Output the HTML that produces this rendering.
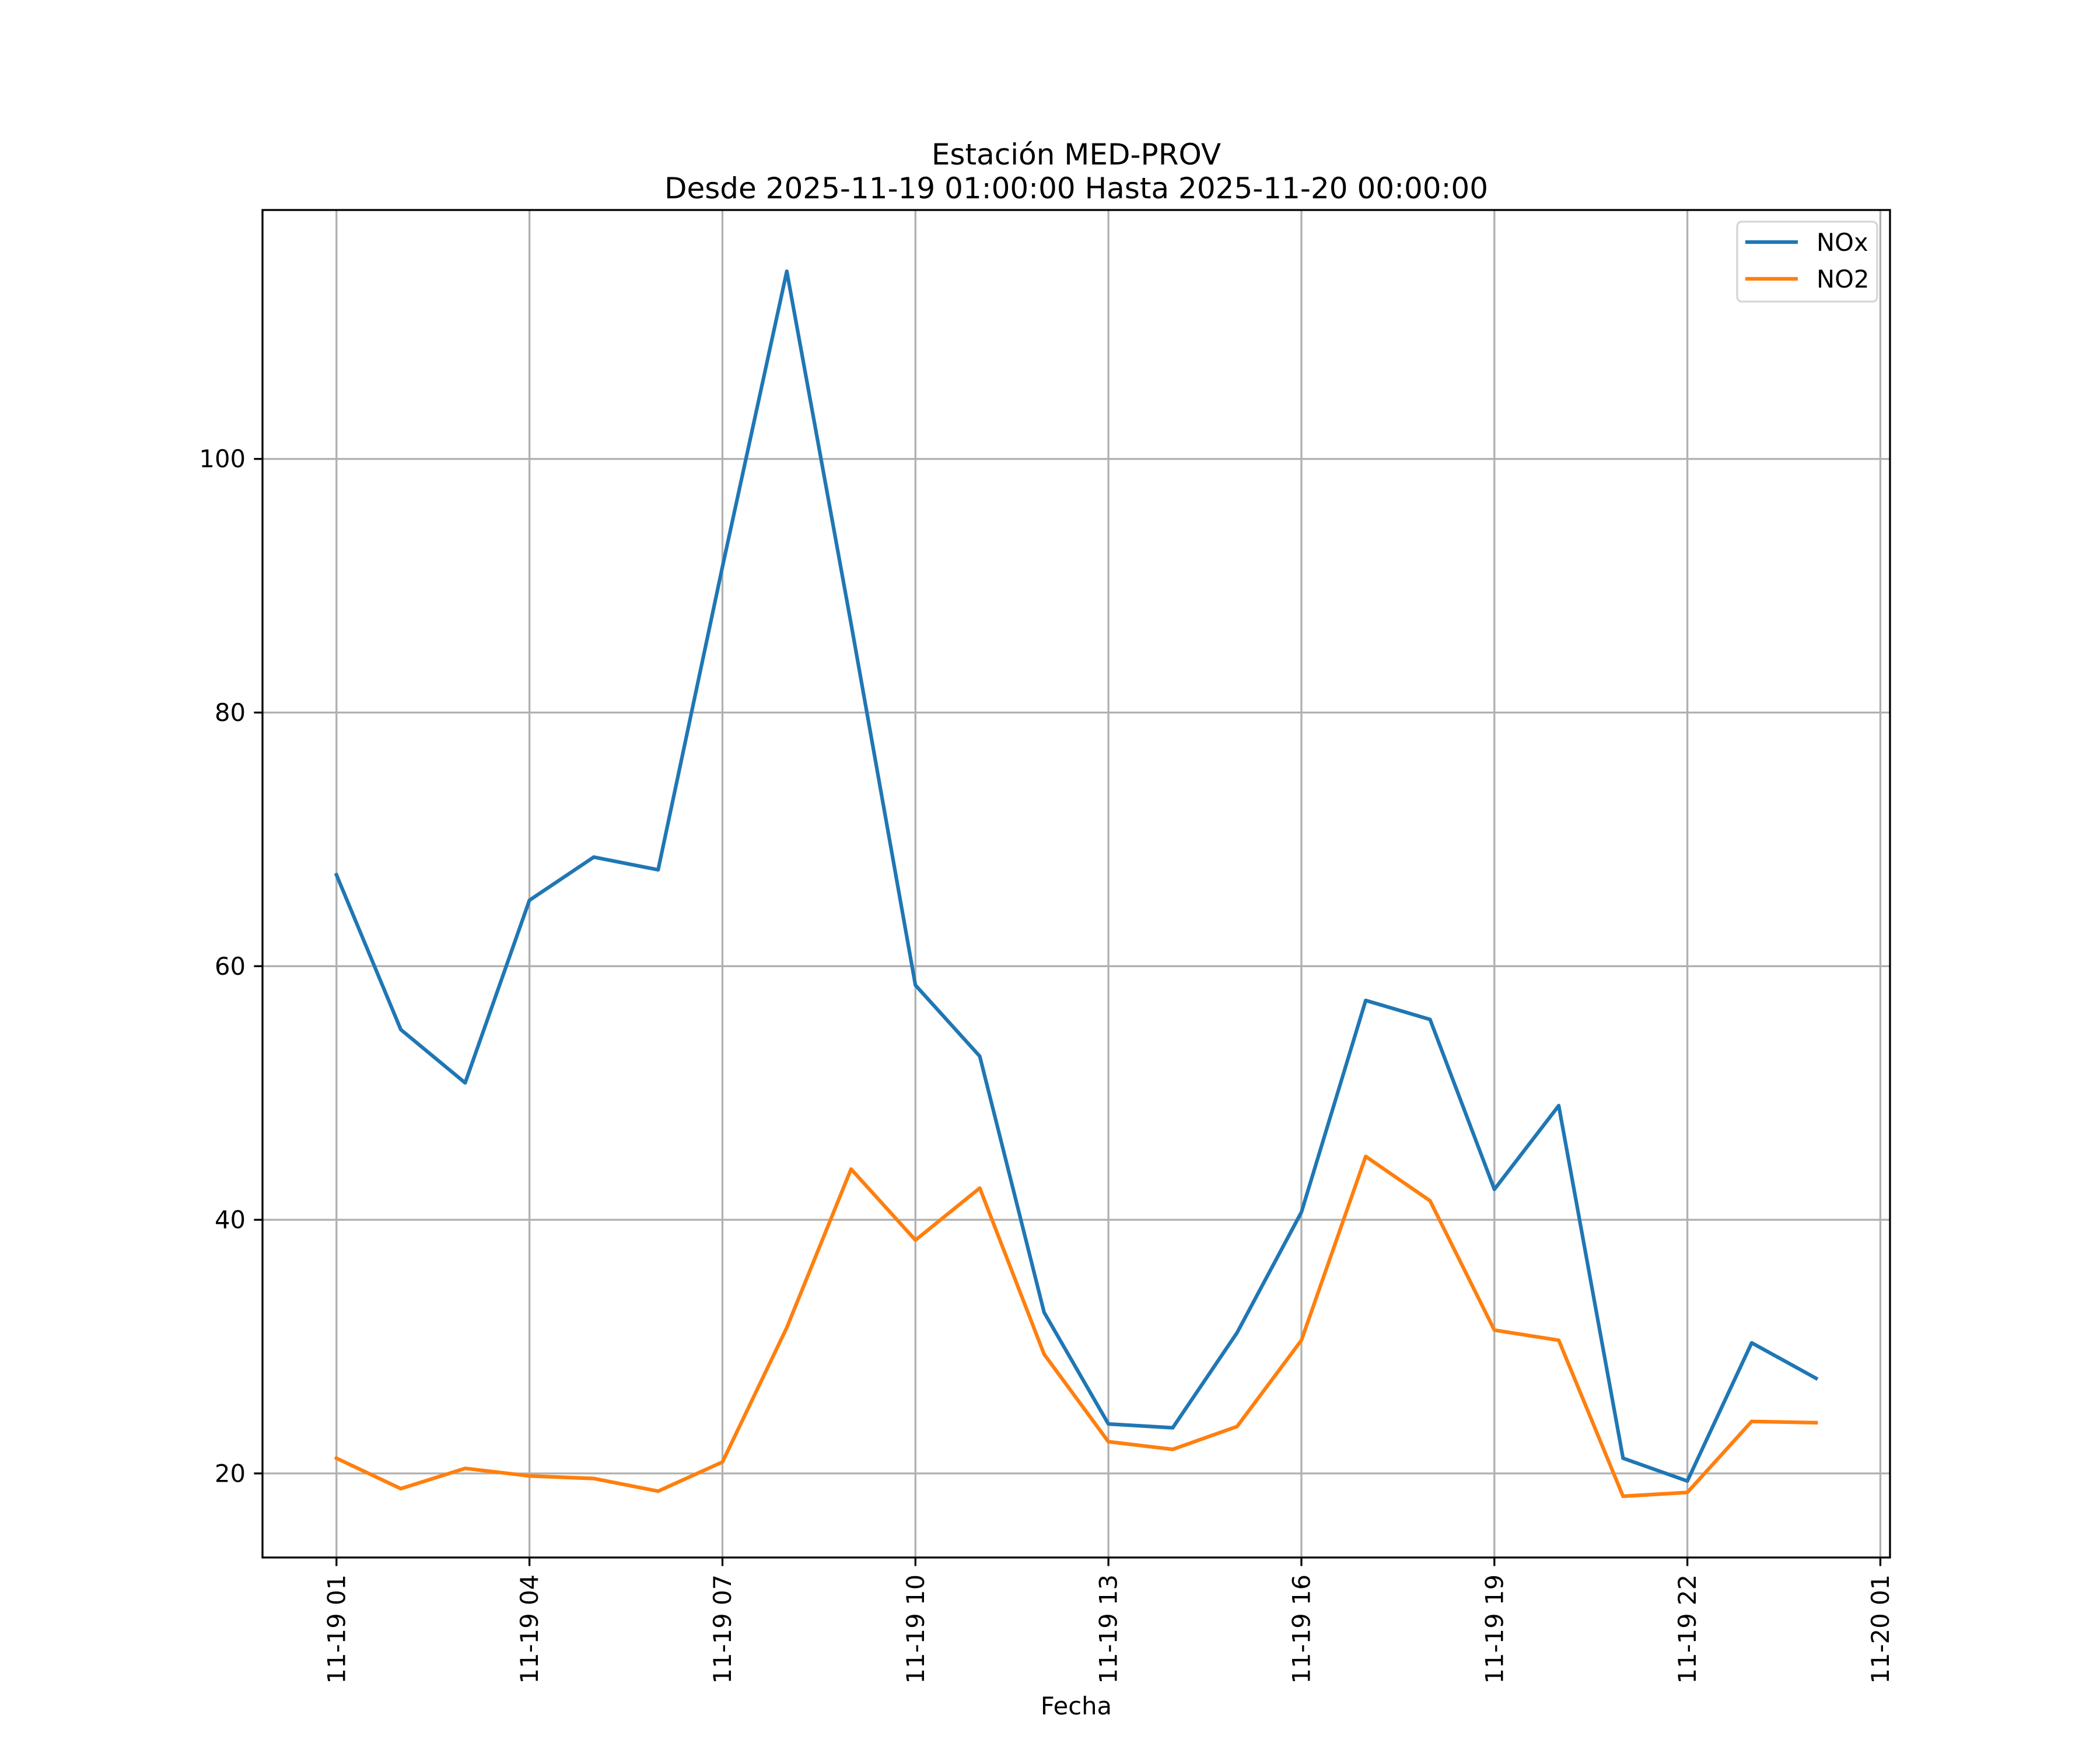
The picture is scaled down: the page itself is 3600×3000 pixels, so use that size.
<!DOCTYPE html>
<html><head><meta charset="utf-8"><style>
html,body{margin:0;padding:0;background:#fff}
svg{display:block;font-family:"DejaVu Sans","Liberation Sans",sans-serif}
</style></head><body>
<svg id="chart" xmlns="http://www.w3.org/2000/svg" width="3600" height="3000" viewBox="0 0 3600 3000">
<rect width="3600" height="3000" fill="#fff"/>
<text x="1845" y="282" font-size="50" text-anchor="middle">Estación MED-PROV</text>
<text x="1845" y="340" font-size="50" text-anchor="middle">Desde 2025-11-19 01:00:00 Hasta 2025-11-20 00:00:00</text>
<g id="grid"></g>
<g id="series"></g>
<rect x="450" y="360" width="2790" height="2310" fill="none" stroke="#000" stroke-width="3.3"/>
<g id="ticks"></g>
<text x="1845" y="2939" font-size="41.7" text-anchor="middle">Fecha</text>
<g>
<rect x="2978" y="380" width="240" height="137" rx="8" fill="#fff" fill-opacity="0.8" stroke="#d6d6d6" stroke-width="3.3"/>
<line x1="2992" y1="415" x2="3082" y2="415" stroke="#1f77b4" stroke-width="6.25"/>
<text x="3114" y="430" font-size="41.7">NOx</text>
<line x1="2992" y1="478" x2="3082" y2="478" stroke="#ff7f0e" stroke-width="6.25"/>
<text x="3114" y="493" font-size="41.7">NO2</text>
</g>
</svg>
<script>
const hours = [1,2,3,4,5,6,7,8,9,10,11,12,13,14,15,16,17,18,19,20,21,22,23,24];
const noxValues = [67.2,55.0,50.8,65.2,68.6,67.6,91.5,114.8,87.0,58.5,52.9,32.7,23.9,23.6,31.1,40.6,57.3,55.8,42.4,49.0,21.2,19.4,30.3,27.5];
const no2Values = [21.2,18.8,20.4,19.8,19.6,18.6,20.9,31.5,44.0,38.4,42.5,29.4,22.5,21.9,23.7,30.5,45.0,41.5,31.3,30.5,18.2,18.5,24.1,24.0];
const xTickHours = [1,4,7,10,13,16,19,22,25];
const xTickLabels = ["11-19 01","11-19 04","11-19 07","11-19 10","11-19 13","11-19 16","11-19 19","11-19 22","11-20 01"];
const yTickValues = [20,40,60,80,100];

const NS="http://www.w3.org/2000/svg";
const L=450,R=3240,T=360,B=2670;
const all=noxValues.concat(no2Values);
const dmin=Math.min(...all),dmax=Math.max(...all);
const ymin=dmin-0.05*(dmax-dmin),ymax=dmax+0.05*(dmax-dmin);
const hmin=hours[0],hmax=hours[hours.length-1];
const xmin=hmin-0.05*(hmax-hmin),xmax=hmax+0.05*(hmax-hmin);
const sx=h=>L+(h-xmin)/(xmax-xmin)*(R-L);
const sy=v=>B-(v-ymin)/(ymax-ymin)*(B-T);
function mk(tag,attrs,parent){const e=document.createElementNS(NS,tag);for(const k in attrs)e.setAttribute(k,attrs[k]);parent.appendChild(e);return e;}
const grid=document.getElementById('grid'),ticks=document.getElementById('ticks'),series=document.getElementById('series');
xTickHours.forEach((h,i)=>{
  const x=sx(h);
  const g=mk('line',{x1:x,y1:T,x2:x,y2:B,stroke:'#b0b0b0','stroke-width':3.3},grid);
  
  
  const t=mk('line',{x1:x,y1:B,x2:x,y2:B+14.6,stroke:'#000','stroke-width':3.3},ticks);
  
  
  const lb=mk('text',{x:0,y:0,'font-size':41.7,'text-anchor':'end','dominant-baseline':'central',transform:`translate(${x},${B+29})rotate(-90)`},ticks);
  lb.textContent=xTickLabels[i];
  
  
});
yTickValues.forEach(v=>{
  const y=sy(v);
  const g=mk('line',{x1:L,y1:y,x2:R,y2:y,stroke:'#b0b0b0','stroke-width':3.3},grid);
  
  
  const t=mk('line',{x1:L-14.6,y1:y,x2:L,y2:y,stroke:'#000','stroke-width':3.3},ticks);
  
  
  const lb=mk('text',{x:L-29,y:y,'font-size':41.7,'text-anchor':'end','dominant-baseline':'central'},ticks);
  lb.textContent=String(v);
  
  
});
function line(vals,color,name){
  const pts=vals.map((v,i)=>sx(hours[i]).toFixed(1)+','+sy(v).toFixed(1)).join(' ');
  const p=mk('polyline',{points:pts,fill:'none',stroke:color,'stroke-width':6.25,'stroke-linejoin':'round','stroke-linecap':'square'},series);
  
  
}
line(noxValues,'#1f77b4','nox-line');
line(no2Values,'#ff7f0e','no2-line');
</script>
</body></html>
